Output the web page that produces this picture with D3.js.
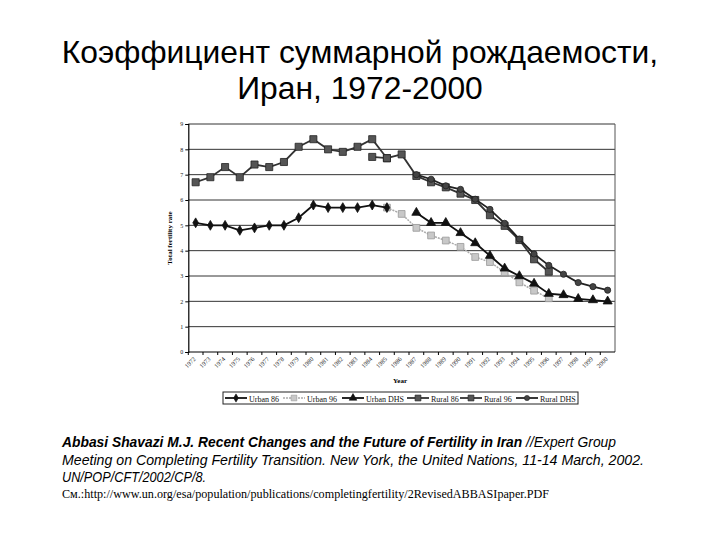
<!DOCTYPE html>
<html><head><meta charset="utf-8">
<script src="https://cdn.jsdelivr.net/npm/d3@7"></script>
<style>body{margin:0;background:#fff}</style>
</head><body>
<svg id="c" width="720" height="540"></svg>
<script>
// ---- data ----
const years = ["1972","1973","1974","1975","1976","1977","1978","1979","1980","1981","1982","1983","1984","1985","1986","1987","1988","1989","1990","1991","1992","1993","1994","1995","1996","1997","1998","1999","2000"];
const yTicks = [0,1,2,3,4,5,6,7,8,9];
const urban86  = [5.1,5.0,5.0,4.8,4.9,5.0,5.0,5.3,5.8,5.7,5.7,5.7,5.8,5.7,null,null,null,null,null,null,null,null,null,null,null,null,null,null,null];
const urban96  = [null,null,null,null,null,null,null,null,null,null,null,null,null,5.7,5.45,4.9,4.6,4.4,4.15,3.75,3.55,3.15,2.75,2.42,2.12,null,null,null,null];
const urbanDHS = [null,null,null,null,null,null,null,null,null,null,null,null,null,null,null,5.5,5.1,5.1,4.7,4.3,3.8,3.3,3.0,2.7,2.3,2.25,2.1,2.05,2.0];
const rural86  = [6.7,6.9,7.3,6.9,7.4,7.3,7.5,8.1,8.4,8.0,7.9,8.1,8.4,7.65,null,null,null,null,null,null,null,null,null,null,null,null,null,null,null];
const rural96  = [null,null,null,null,null,null,null,null,null,null,null,null,7.7,7.65,7.8,6.95,6.7,6.5,6.25,6.0,5.4,4.98,4.42,3.66,3.17,null,null,null,null];
const ruralDHS = [null,null,null,null,null,null,null,null,null,null,null,null,null,null,null,7.0,6.82,6.56,6.42,6.03,5.63,5.08,4.46,3.87,3.42,3.07,2.74,2.58,2.44];
const seriesNames = ["Urban 86","Urban 96","Urban DHS","Rural 86","Rural 96","Rural DHS"];

const titleLines = ["Коэффициент суммарной рождаемости,","Иран, 1972-2000"];
const yTitle = "Total fertility rate";
const xTitle = "Year";

// ---- drawing ----
const svg = d3.select("#c");
const x = d3.scaleBand().domain(years).range([188.3, 615]).padding(0);
const cx = d => x(d) + x.bandwidth()/2;
const y = d3.scaleLinear().domain([0, 9]).range([352, 124]);

// title
svg.selectAll("text.title").data(titleLines).join("text")
  .attr("class","title")
  .attr("x", 360).attr("y", (d,i) => 63 + i*36)
  .attr("text-anchor","middle")
  .attr("font-family","'Liberation Sans', Arial, sans-serif")
  .attr("font-size", 31.8).attr("fill","#000")
  .text(d => d);

// grid lines
const g = svg.append("g");
g.selectAll("line.grid").data(yTicks.filter(t => t > 0)).join("line")
  .attr("x1", 188.3).attr("x2", 615)
  .attr("y1", d => y(d)).attr("y2", d => y(d))
  .attr("stroke", "#333").attr("stroke-width", 1);
// right border
g.append("line").attr("x1",615).attr("x2",615).attr("y1",y(9)).attr("y2",y(0)).attr("stroke","#555").attr("stroke-width",1);

// y axis
const yAxis = d3.axisLeft(y).tickValues(yTicks).tickSize(3).tickFormat(d3.format("d"));
const ya = svg.append("g").attr("transform","translate(188.3,0)").call(yAxis);
ya.select(".domain").attr("stroke","#000").attr("stroke-width",1.2);
ya.selectAll(".tick line").attr("stroke","#000");
ya.selectAll(".tick text").attr("font-family","'Liberation Serif', 'Times New Roman', serif").attr("font-size",6).attr("fill","#222").attr("x",-5);

// x axis
const xa = svg.append("g").attr("transform","translate(0,352)");
xa.append("line").attr("x1",188.3).attr("x2",615).attr("y1",0).attr("y2",0).attr("stroke","#000").attr("stroke-width",1.2);
xa.selectAll("line.tk").data(years).join("line")
  .attr("x1", d => x(d)).attr("x2", d => x(d)).attr("y1",0).attr("y2",3)
  .attr("stroke","#000");
xa.selectAll("text.tl").data(years).join("text")
  .attr("transform", d => `translate(${cx(d)-1},${6}) rotate(-45)`)
  .attr("text-anchor","end").attr("dy","0.35em")
  .attr("font-family","'Liberation Serif', 'Times New Roman', serif")
  .attr("font-size",6.3).attr("fill","#222")
  .text(d => d);

svg.append("text").attr("x",400).attr("y",383).attr("text-anchor","middle")
  .attr("font-family","'Liberation Serif', 'Times New Roman', serif").attr("font-weight","bold")
  .attr("font-size",7).text(xTitle);
svg.append("text").attr("transform","translate(172,238) rotate(-90)").attr("text-anchor","middle")
  .attr("font-family","'Liberation Serif', 'Times New Roman', serif").attr("font-weight","bold")
  .attr("font-size",7).text(yTitle);

// series styles
const styles = {
  "Urban 86":  {data: urban86,  stroke:"#111", w:1.8, dash:null,  sym:d3.symbolDiamond,  size:28, fill:"#111", sstroke:"#111"},
  "Urban 96":  {data: urban96,  stroke:"#aaa", w:1.5, dash:"2,1", sym:d3.symbolSquare,   size:46, fill:"#c8c8c8", sstroke:"#999"},
  "Urban DHS": {data: urbanDHS, stroke:"#111", w:1.8, dash:null,  sym:d3.symbolTriangle, size:36, fill:"#111", sstroke:"#111"},
  "Rural 86":  {data: rural86,  stroke:"#333", w:1.8, dash:null,  sym:d3.symbolSquare,   size:50, fill:"#555", sstroke:"#222"},
  "Rural 96":  {data: rural96,  stroke:"#333", w:1.8, dash:null,  sym:d3.symbolSquare,   size:50, fill:"#555", sstroke:"#222"},
  "Rural DHS": {data: ruralDHS, stroke:"#222", w:1.8, dash:null,  sym:d3.symbolCircle,   size:30, fill:"#444", sstroke:"#222"}
};
const drawOrder = ["Urban 96","Urban 86","Urban DHS","Rural 86","Rural 96","Rural DHS"];
const line = d3.line().defined(d => d.v != null).x(d => cx(d.year)).y(d => y(d.v));
drawOrder.forEach(name => {
  const s = styles[name];
  const pts = years.map((yr,i) => ({year:yr, v:s.data[i]}));
  svg.append("path").datum(pts).attr("d", line).attr("fill","none")
    .attr("stroke", s.stroke).attr("stroke-width", s.w).attr("stroke-dasharray", s.dash);
  svg.selectAll(null).data(pts.filter(p => p.v != null)).join("path")
    .attr("d", d3.symbol().type(s.sym).size(s.size))
    .attr("transform", d => `translate(${cx(d.year)},${y(d.v)})`)
    .attr("fill", s.fill).attr("stroke", s.sstroke).attr("stroke-width", 0.8);
});

// legend
const lg = svg.append("g");
lg.append("rect").attr("x",223).attr("y",392).attr("width",355).attr("height",12)
  .attr("fill","#fff").attr("stroke","#222").attr("stroke-width",1);
const legX = [225, 283, 342, 407, 460, 516];
seriesNames.forEach((name,i) => {
  const s = styles[name];
  const x0 = legX[i];
  lg.append("line").attr("x1",x0).attr("x2",x0+22).attr("y1",398).attr("y2",398)
    .attr("stroke",s.stroke).attr("stroke-width",s.w).attr("stroke-dasharray",s.dash);
  lg.append("path").attr("d", d3.symbol().type(s.sym).size(s.size*0.7))
    .attr("transform",`translate(${x0+11},398)`).attr("fill",s.fill).attr("stroke",s.sstroke).attr("stroke-width",0.6);
  lg.append("text").attr("x",x0+24).attr("y",401.5).attr("font-family","'Liberation Serif', 'Times New Roman', serif")
    .attr("font-size",8).attr("fill","#111").text(name);
});

// citation
const cite = svg.append("g").attr("font-family","'Liberation Sans', Arial, sans-serif").attr("font-size",14).attr("font-style","italic");
const t1 = cite.append("text").attr("x",62).attr("y",447).attr("textLength",554).attr("lengthAdjust","spacingAndGlyphs");
t1.append("tspan").attr("font-weight","bold").text("Abbasi Shavazi M.J. Recent Changes and the Future of Fertility in Iran ");
t1.append("tspan").text("//Expert Group");
cite.append("text").attr("x",62).attr("y",465).attr("textLength",582).attr("lengthAdjust","spacingAndGlyphs")
  .text("Meeting on Completing Fertility Transition. New York, the United Nations, 11-14 March, 2002.");
cite.append("text").attr("x",62).attr("y",482).attr("textLength",144).attr("lengthAdjust","spacingAndGlyphs")
  .text("UN/POP/CFT/2002/CP/8.");
svg.append("text").attr("x",62).attr("y",498).attr("textLength",487).attr("lengthAdjust","spacingAndGlyphs")
  .attr("font-family","'Liberation Serif', 'Times New Roman', serif").attr("font-size",12)
  .text("См.:http://www.un.org/esa/population/publications/completingfertility/2RevisedABBASIpaper.PDF");
</script>
</body></html>
